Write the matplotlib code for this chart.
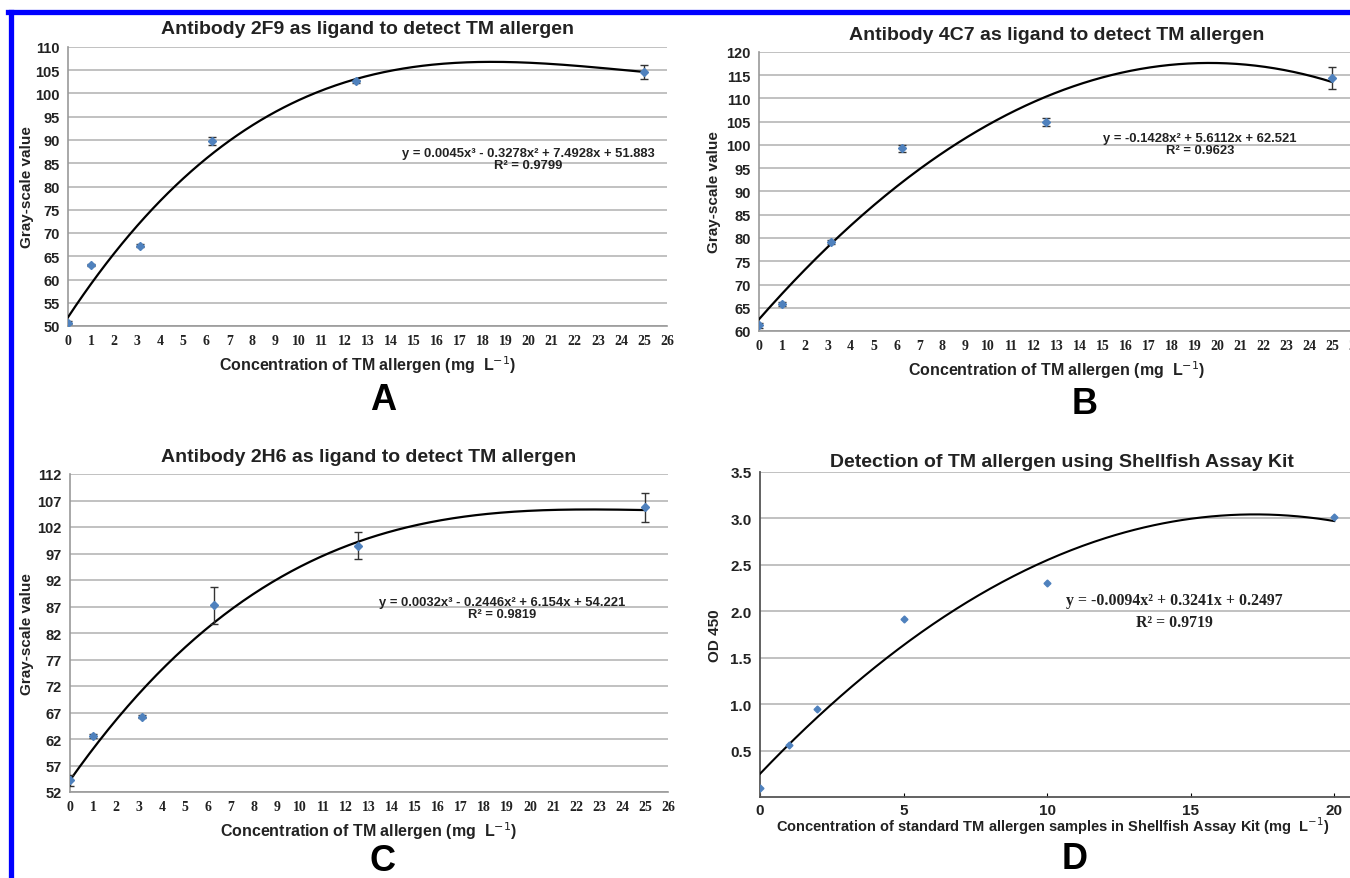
import matplotlib
matplotlib.use("Agg")
import matplotlib.pyplot as plt
import numpy as np

# data
conc = [0, 1, 3.125, 6.25, 12.5, 25]

a_vals = [50.7, 63.1, 67.3, 89.8, 102.6, 104.6]
a_err = [0.3, 0.3, 0.3, 0.8, 0.4, 1.5]
a_fit = [0.0045, -0.3278, 7.4928, 51.883]
a_eq = "y = 0.0045x³ - 0.3278x² + 7.4928x + 51.883\nR² = 0.9799"

b_vals = [61.2, 65.8, 79.1, 99.3, 105.0, 114.4]
b_err = [0.5, 0.5, 0.4, 0.7, 0.9, 2.3]
b_fit = [-0.1428, 5.6112, 62.521]
b_eq = "y = -0.1428x² + 5.6112x + 62.521\nR² = 0.9623"

c_vals = [54.2, 62.6, 66.2, 87.2, 98.5, 105.7]
c_err = [1.0, 0.4, 0.3, 3.5, 2.5, 2.8]
c_fit = [0.0032, -0.2446, 6.154, 54.221]
c_eq = "y = 0.0032x³ - 0.2446x² + 6.154x + 54.221\nR² = 0.9819"

d_conc = [0, 1, 2, 5, 10, 20]
d_vals = [0.10, 0.56, 0.95, 1.92, 2.31, 3.02]
d_fit = [-0.0094, 0.3241, 0.2497]
d_eq = "y = -0.0094x² + 0.3241x + 0.2497\nR² = 0.9719"

W, H = 1350, 879
fig = plt.figure(figsize=(13.5, 8.79), dpi=100)

SANS = "Liberation Sans"
SERIF = "Liberation Serif"
BLUE = "#4f81bd"
GRID = "#bcbcbc"
TXT = "#222222"


def box(x0, x1, ytop, ybot):
    return [x0 / W, 1 - ybot / H, (x1 - x0) / W, (ybot - ytop) / H]


def gray_panel(rect, vals, err, fit, eq, ymin, ymax, title, eqpos, letter, letpos, ylab_x, tpad):
    ax = fig.add_axes(rect)
    xs = np.linspace(0, 25, 300)
    ax.plot(xs, np.polyval(fit, xs), color="black", lw=1.6, zorder=3)
    ax.errorbar(conc, vals, yerr=err, fmt="D", color=BLUE, ms=4.5, ecolor="#333333",
                elinewidth=1, capsize=3, capthick=1, zorder=4)
    ax.set_xlim(0, 26)
    ax.set_ylim(ymin, ymax)
    ax.set_xticks(range(0, 27))
    ax.set_yticks(range(ymin, ymax + 1, 5))
    ax.grid(axis="y", color=GRID, lw=1.3)
    ax.set_axisbelow(True)
    for s in ["top", "right"]:
        ax.spines[s].set_visible(False)
    for s in ["left", "bottom"]:
        ax.spines[s].set_color("#999999")
        ax.spines[s].set_linewidth(1.2)
    ax.tick_params(length=0, pad=6)
    for t in ax.get_xticklabels():
        t.set_fontfamily(SERIF)
        t.set_fontweight("bold")
        t.set_fontsize(10)
        t.set_color(TXT)
    for t in ax.get_yticklabels():
        t.set_fontfamily(SANS)
        t.set_fontweight("bold")
        t.set_fontsize(10.5)
        t.set_color(TXT)
    ax.set_title(title, fontfamily=SANS, fontweight="bold", fontsize=14, pad=tpad, color=TXT)
    ax.set_xlabel("Concentration of TM allergen (mg  L$^{-1}$)", fontfamily=SANS,
                  fontweight="bold", fontsize=11.5, labelpad=4, color=TXT)
    ax.set_ylabel("Gray-scale value", fontfamily=SANS, fontweight="bold", fontsize=11,
                  color=TXT)
    ax.yaxis.set_label_coords(ylab_x, 0.5)
    fig.text(eqpos[0] / W, 1 - eqpos[1] / H, eq, ha="center", va="center", fontfamily=SANS,
             fontweight="bold", fontsize=9.4, linespacing=1.1, color=TXT)
    fig.text(letpos[0] / W, 1 - letpos[1] / H, letter, ha="center", va="center",
             fontfamily=SANS, fontweight="bold", fontsize=26)
    return ax


gray_panel(box(68, 667, 48, 327), a_vals, a_err, a_fit, a_eq, 50, 110,
           "Antibody 2F9 as ligand to detect TM allergen", (528, 160), "A", (383, 400), -0.057, 10)
gray_panel(box(759, 1355, 53, 332), b_vals, b_err, b_fit, b_eq, 60, 120,
           "Antibody 4C7 as ligand to detect TM allergen", (1200, 145), "B", (1085, 405), -0.063, 9)
gray_panel(box(70, 668, 475, 793), c_vals, c_err, c_fit, c_eq, 52, 112,
           "Antibody 2H6 as ligand to detect TM allergen", (502, 609), "C", (383, 862), -0.06, 9)

# panel D
ax = fig.add_axes(box(760, 1363, 473, 798))
xs = np.linspace(0, 20, 300)
ax.plot(xs, np.polyval(d_fit, xs), color="black", lw=1.5, zorder=3)
ax.plot(d_conc, d_vals, "D", color=BLUE, ms=3.5, zorder=4)
ax.set_xlim(0, 21)
ax.set_ylim(0, 3.5)
ax.set_xticks([0, 5, 10, 15, 20])
ax.set_yticks([0.5, 1.0, 1.5, 2.0, 2.5, 3.0, 3.5])
ax.set_yticklabels(["0.5", "1.0", "1.5", "2.0", "2.5", "3.0", "3.5"])
ax.grid(axis="y", color=GRID, lw=1.3)
ax.set_axisbelow(True)
for s in ["top", "right"]:
    ax.spines[s].set_visible(False)
for s in ["left", "bottom"]:
    ax.spines[s].set_color("#555555")
    ax.spines[s].set_linewidth(1.3)
ax.tick_params(axis="y", length=0, pad=6)
ax.tick_params(axis="x", direction="in", length=3, pad=4)
for t in ax.get_xticklabels() + ax.get_yticklabels():
    t.set_fontfamily(SANS)
    t.set_fontweight("bold")
    t.set_fontsize(11)
    t.set_color(TXT)
ax.set_title("Detection of TM allergen using Shellfish Assay Kit", fontfamily=SANS,
             fontweight="bold", fontsize=14, pad=4, color=TXT)
ax.set_ylabel("OD 450", fontfamily=SANS, fontweight="bold", fontsize=11, color=TXT)
ax.yaxis.set_label_coords(-0.063, 0.5)
fig.text(776 / W, 1 - 826 / H, "Concentration of standard TM allergen samples in Shellfish Assay Kit (mg  L$^{-1}$)",
         ha="left", va="center", fontfamily=SANS, fontweight="bold", fontsize=10.5, color=TXT)
fig.text(1174 / W, 1 - 612 / H, d_eq, ha="center", va="center", fontfamily=SERIF,
         fontweight="bold", fontsize=11.4, linespacing=1.55, color=TXT)
fig.text(1075 / W, 1 - 860 / H, "D", ha="center", va="center", fontfamily=SANS,
         fontweight="bold", fontsize=26)

# blue frame lines (top and left)
fig.add_artist(plt.Line2D([8 / W, 1], [1 - 12.5 / H, 1 - 12.5 / H], color="#0000ff", lw=3.8))
fig.add_artist(plt.Line2D([10.5 / W, 10.5 / W], [0, 1 - 12.5 / H], color="#0000ff", lw=3.8))

fig.savefig("out.png", dpi=100)
